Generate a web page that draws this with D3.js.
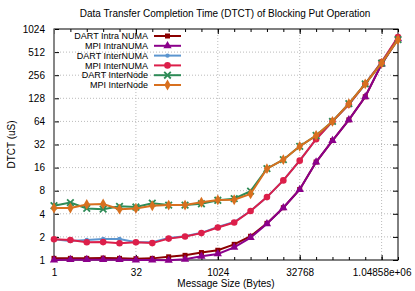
<!DOCTYPE html>
<html>
<head>
<meta charset="utf-8">
<script src="https://cdn.jsdelivr.net/npm/d3@7"></script>
<style>
  body { margin: 0; background: #fff; }
  text { font-family: "Liberation Sans", Arial, sans-serif; font-size: 10px; fill: #000; }
</style>
</head>
<body>
<div id="chart"></div>
<script>
// message sizes 2^0 .. 2^21 bytes
var sizes = d3.range(0, 22).map(function(p) { return Math.pow(2, p); });

var seriesNames = ["DART Intra NUMA", "MPI IntraNUMA", "DART InterNUMA", "MPI InterNUMA", "DART InterNode", "MPI InterNode"];

var dartIntraNuma = [1.05, 1.05, 1.05, 1.06, 1.05, 1.04, 1.05, 1.1, 1.15, 1.25, 1.34, 1.6, 2.04, 3.0, 4.8, 8.3, 18.9, 36, 67, 134, 357, 780];
var mpiIntraNuma = [1.0, 1.01, 1.01, 1.01, 1.01, 1.0, 1.0, 0.99, 1.02, 1.12, 1.2, 1.46, 1.96, 2.96, 4.8, 8.3, 18.9, 36, 67, 134, 357, 760];
var dartInterNuma = [1.86, 1.77, 1.82, 1.88, 1.88, 1.7, 1.7, 1.94, 2.04, 2.26, 2.69, 3.13, 4.35, 6.6, 10.9, 19.7, 37.5, 64, 107, 197, 380, 790];
var mpiInterNuma = [1.86, 1.82, 1.7, 1.71, 1.65, 1.7, 1.66, 1.9, 2.02, 2.24, 2.65, 3.08, 4.35, 6.6, 10.9, 19.7, 37.5, 64, 106, 197, 380, 803];
var dartInterNode = [5.1, 5.6, 4.7, 4.6, 5.0, 4.9, 5.5, 5.2, 5.2, 5.4, 6.0, 6.3, 7.9, 15.5, 20.3, 30.3, 41.9, 64, 109, 197, 367, 744];
var mpiInterNode = [4.76, 4.76, 5.3, 5.37, 4.6, 4.7, 5.1, 5.2, 5.2, 5.65, 6.07, 6.1, 7.26, 15.5, 20.3, 30.3, 41.9, 64, 109, 197, 367, 744];

var xTickValues = [1, 32, 1024, 32768, 1048576];
var xTickLabels = ["1", "32", "1024", "32768", "1.04858e+06"];
var yTickValues = [1, 2, 4, 8, 16, 32, 64, 128, 256, 512, 1024];

var colors = ["#8b0000", "#8b008b", "#5b95cf", "#dc1f4a", "#2e8b57", "#d8701f"];
var shapes = ["square", "triangle", "dot", "circle", "star", "diamond"];
var values = [dartIntraNuma, mpiIntraNuma, dartInterNuma, mpiInterNuma, dartInterNode, mpiInterNode];

var width = 415, height = 291;
var margin = { top: 29, right: 17, bottom: 31, left: 54 };
var w = width - margin.left - margin.right,
    h = height - margin.top - margin.bottom;

var svg = d3.select("#chart").append("svg")
  .attr("width", width)
  .attr("height", height);

var g = svg.append("g")
  .attr("transform", "translate(" + margin.left + "," + margin.top + ")");

var x = d3.scaleLog().base(2).domain([1, Math.pow(2, 21)]).range([0, w]);
var y = d3.scaleLog().base(2).domain([1, 1024]).range([h, 0]);

// grid
g.append("g").selectAll("line")
  .data(yTickValues.slice(1, -1))
  .enter().append("line")
  .attr("x1", 0).attr("x2", w)
  .attr("y1", function(d) { return y(d); })
  .attr("y2", function(d) { return y(d); })
  .attr("stroke", "#bbb").attr("stroke-width", 1).attr("stroke-dasharray", "1,2");

g.append("g").selectAll("line")
  .data(xTickValues.slice(1))
  .enter().append("line")
  .attr("x1", function(d) { return x(d); })
  .attr("x2", function(d) { return x(d); })
  .attr("y1", 0).attr("y2", h)
  .attr("stroke", "#bbb").attr("stroke-width", 1).attr("stroke-dasharray", "1,2");

// axes
var xAxis = d3.axisBottom(x).tickValues(xTickValues)
  .tickFormat(function(d, i) { return xTickLabels[i]; })
  .tickSizeInner(-5).tickSizeOuter(0).tickPadding(9);
var xMinor = d3.axisBottom(x).tickValues(sizes).tickFormat("").tickSizeInner(-3).tickSizeOuter(0);
var xTop = d3.axisTop(x).tickValues(xTickValues).tickFormat("").tickSizeInner(-5).tickSizeOuter(0);
var xTopMinor = d3.axisTop(x).tickValues(sizes).tickFormat("").tickSizeInner(-3).tickSizeOuter(0);
var yAxis = d3.axisLeft(y).tickValues(yTickValues).tickFormat(d3.format("d"))
  .tickSizeInner(-5).tickSizeOuter(0).tickPadding(9);
var yRight = d3.axisRight(y).tickValues(yTickValues).tickFormat("").tickSizeInner(-5).tickSizeOuter(0);

[
  [xAxis, "translate(0," + h + ")"],
  [xMinor, "translate(0," + h + ")"],
  [xTop, "translate(0,0)"],
  [xTopMinor, "translate(0,0)"],
  [yAxis, "translate(0,0)"],
  [yRight, "translate(" + w + ",0)"]
].forEach(function(a) {
  var ax = g.append("g").attr("transform", a[1]).call(a[0]);
  ax.select(".domain").remove();
  ax.selectAll("line").attr("stroke", "#000");
  ax.selectAll("text").attr("font-family", "Liberation Sans, Arial, sans-serif").attr("font-size", 10).attr("fill", "#000");
});

// border
g.append("rect").attr("width", w).attr("height", h)
  .attr("fill", "none").attr("stroke", "#000").attr("stroke-width", 1);
g.append("line").attr("x1", 0).attr("x2", 0).attr("y1", 0).attr("y2", h)
  .attr("stroke", "#888").attr("stroke-width", 1.5);

// markers
function drawMarker(sel, shape, color, cx, cy) {
  if (shape === "square") {
    sel.append("rect").attr("x", cx - 2.5).attr("y", cy - 2.5).attr("width", 5).attr("height", 5).attr("fill", color);
  } else if (shape === "triangle") {
    sel.append("path").attr("d", d3.symbol().type(d3.symbolTriangle).size(30)())
      .attr("transform", "translate(" + cx + "," + cy + ")").attr("fill", color);
  } else if (shape === "dot") {
    sel.append("circle").attr("cx", cx).attr("cy", cy).attr("r", 2.2).attr("fill", color);
  } else if (shape === "circle") {
    sel.append("circle").attr("cx", cx).attr("cy", cy).attr("r", 3.3).attr("fill", color);
  } else if (shape === "star") {
    sel.append("path").attr("d", d3.symbol().type(d3.symbolTimes).size(30)())
      .attr("transform", "translate(" + cx + "," + cy + ")").attr("fill", "none")
      .attr("stroke", color).attr("stroke-width", 1.8);
  } else if (shape === "diamond") {
    sel.append("path").attr("d", d3.symbol().type(d3.symbolDiamond).size(34)())
      .attr("transform", "translate(" + cx + "," + cy + ")").attr("fill", color);
  }
}

var line = d3.line()
  .x(function(d, i) { return x(sizes[i]); })
  .y(function(d) { return y(d); });

values.forEach(function(vals, k) {
  var sg = g.append("g");
  sg.append("path").datum(vals)
    .attr("d", line).attr("fill", "none")
    .attr("stroke", colors[k]).attr("stroke-width", 2);
  vals.forEach(function(v, i) {
    drawMarker(sg, shapes[k], colors[k], x(sizes[i]), y(v));
  });
});

// legend
var legend = g.append("g").attr("transform", "translate(0,0)");
seriesNames.forEach(function(name, k) {
  var ly = 7 + k * 9.8;
  legend.append("text").attr("x", 94).attr("y", ly).attr("dy", "0.35em")
    .attr("text-anchor", "end").style("font-size", "9px").text(name);
  legend.append("line").attr("x1", 100).attr("x2", 127).attr("y1", ly).attr("y2", ly)
    .attr("stroke", colors[k]).attr("stroke-width", 2);
  drawMarker(legend, shapes[k], colors[k], 113.5, ly);
});

// titles
svg.append("text").attr("x", 225).attr("y", 17).attr("text-anchor", "middle")
  .text("Data Transfer Completion Time (DTCT) of Blocking Put Operation");
svg.append("text").attr("x", 226).attr("y", 287).attr("text-anchor", "middle")
  .text("Message Size (Bytes)");
svg.append("text").attr("transform", "translate(15," + (margin.top + h / 2) + ") rotate(-90)")
  .attr("text-anchor", "middle").text("DTCT (uS)");
</script>
</body>
</html>
